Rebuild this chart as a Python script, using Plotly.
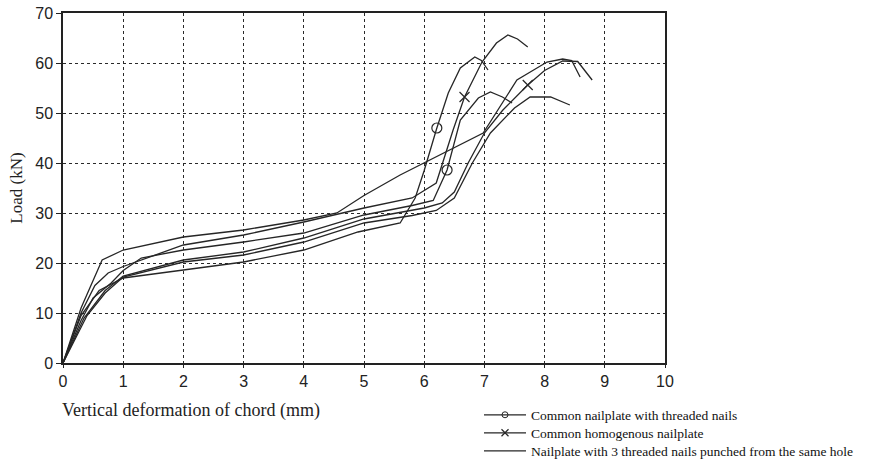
import plotly.graph_objects as go

# Curve data: deformation (mm) vs load (kN)
# Common nailplate with threaded nails (circle markers)
c1_x = [0, 0.3, 0.6, 1.0, 1.5, 2.0, 3.0, 4.0, 4.9, 5.6, 5.85, 6.0, 6.21, 6.4, 6.6, 6.84, 6.95, 7.06]
c1_y = [0, 9.5, 14.5, 17.0, 17.8, 18.6, 20.2, 22.6, 26.2, 28.0, 33.0, 38.5, 47.0, 54.0, 59.0, 61.2, 60.5, 58.6]
c1_mark = 12
c2_x = [0, 0.3, 0.5, 0.8, 1.0, 1.3, 2.0, 3.0, 4.0, 5.0, 5.8, 6.15, 6.38, 6.6, 6.9, 7.1, 7.3, 7.46]
c2_y = [0, 8.5, 13.0, 16.0, 18.5, 21.0, 22.6, 24.2, 26.0, 29.6, 31.5, 32.5, 38.6, 48.6, 53.0, 54.2, 53.2, 52.0]
c2_mark = 12

# Common homogenous nailplate (x markers)
x1_x = [0, 0.3, 0.53, 0.75, 1.0, 2.0, 3.0, 4.0, 5.0, 5.8, 6.2, 6.48, 6.67, 6.96, 7.2, 7.39, 7.55, 7.72]
x1_y = [0, 10.0, 15.5, 18.0, 19.3, 23.6, 25.6, 28.2, 31.0, 33.0, 36.0, 46.6, 53.2, 60.2, 64.0, 65.6, 64.8, 63.2]
x1_mark = 12
x2_x = [0, 0.35, 0.7, 1.0, 2.0, 3.0, 4.0, 5.0, 6.0, 6.3, 6.5, 6.73, 7.0, 7.3, 7.72, 8.0, 8.3, 8.55, 8.79]
x2_y = [0, 9.0, 14.5, 17.4, 20.6, 22.2, 25.0, 28.8, 31.0, 32.0, 34.2, 40.0, 46.0, 50.5, 55.6, 58.5, 60.4, 60.3, 56.6]
x2_mark = 14

# Nailplate with 3 threaded nails punched from the same hole (plain)
p1_x = [0, 0.3, 0.5, 0.65, 1.0, 2.0, 3.0, 4.0, 4.55, 5.0, 5.6, 6.0, 6.98, 7.54, 8.04, 8.3, 8.45, 8.59]
p1_y = [0, 11.0, 16.5, 20.6, 22.6, 25.2, 26.6, 28.6, 30.0, 33.5, 37.6, 40.0, 46.0, 56.6, 60.2, 60.8, 60.5, 57.2]
p2_x = [0, 0.4, 0.7, 1.0, 2.0, 3.0, 4.0, 5.0, 5.8, 6.2, 6.5, 6.8, 7.1, 7.5, 7.76, 8.1, 8.42]
p2_y = [0, 9.5, 14.0, 17.2, 20.2, 21.6, 24.2, 28.0, 29.5, 30.5, 33.0, 40.0, 46.0, 51.0, 53.2, 53.2, 51.6]

legend_names = ["Common nailplate with threaded nails",
                "Common homogenous nailplate",
                "Nailplate with 3 threaded nails punched from the same hole"]

LINE = dict(color="#262626", width=1.3)

fig = go.Figure()

def curve(xs, ys, mark_idx=None, symbol=None):
    fig.add_trace(go.Scatter(x=xs, y=ys, mode="lines", line=LINE,
                             showlegend=False, hoverinfo="skip"))
    if mark_idx is not None:
        fig.add_trace(go.Scatter(x=[xs[mark_idx]], y=[ys[mark_idx]], mode="markers",
                                 marker=dict(symbol=symbol, size=10, color="#262626",
                                             line=dict(width=1.2, color="#262626")),
                                 showlegend=False, hoverinfo="skip"))

curve(c1_x, c1_y, c1_mark, "circle-open")
curve(c2_x, c2_y, c2_mark, "circle-open")
curve(x1_x, x1_y, x1_mark, "x-thin-open")
curve(x2_x, x2_y, x2_mark, "x-thin-open")
curve(p1_x, p1_y)
curve(p2_x, p2_y)

# legend entries, each in its own legend box
fig.add_trace(go.Scatter(x=[None], y=[None], mode="lines+markers", name=legend_names[0],
                         line=LINE, legend="legend",
                         marker=dict(symbol="circle-open", size=6, color="#262626")))
fig.add_trace(go.Scatter(x=[None], y=[None], mode="lines+markers", name=legend_names[1],
                         line=LINE, legend="legend2",
                         marker=dict(symbol="x-thin-open", size=7, color="#262626",
                                     line=dict(width=1.2, color="#262626"))))
fig.add_trace(go.Scatter(x=[None], y=[None], mode="lines", name=legend_names[2],
                         line=LINE, legend="legend3"))

axis_common = dict(showline=True, linecolor="#222", linewidth=1.5, mirror=True,
                   showgrid=True, gridcolor="#2a2a2a", griddash="dot", gridwidth=1.4,
                   ticks="outside", tickcolor="#222", zeroline=False,
                   tickfont=dict(family="Liberation Sans, Arial", size=16, color="#222"))

fig.update_xaxes(range=[0, 10], dtick=1, tick0=0, ticklen=3, **axis_common)
fig.update_yaxes(range=[0, 70], dtick=10, tick0=0, ticklen=5, **axis_common)
fig.update_yaxes(title=dict(text="Load (kN)", font=dict(family="Liberation Serif, Times New Roman", size=17, color="#222"), standoff=8))

fig.add_annotation(text="Vertical deformation of chord (mm)", xref="paper", yref="paper",
                   x=(191 - 63) / 602, y=(363 - 410) / 350, xanchor="center", yanchor="middle",
                   showarrow=False, font=dict(family="Liberation Serif, Times New Roman", size=18, color="#222"))

def leg(ycenter):
    return dict(x=479 / 872, y=1 - ycenter / 468, xanchor="left", yanchor="middle",
                xref="container", yref="container", bgcolor="rgba(0,0,0,0)",
                font=dict(family="Liberation Serif, Times New Roman", size=13.5, color="#111"),
                itemwidth=42)

fig.update_layout(
    width=872, height=468,
    margin=dict(l=63, r=207, t=13, b=105, autoexpand=False),
    paper_bgcolor="white", plot_bgcolor="white",
    showlegend=True,
    legend=leg(415), legend2=leg(433), legend3=leg(451),
)

fig.write_html("out.html")
